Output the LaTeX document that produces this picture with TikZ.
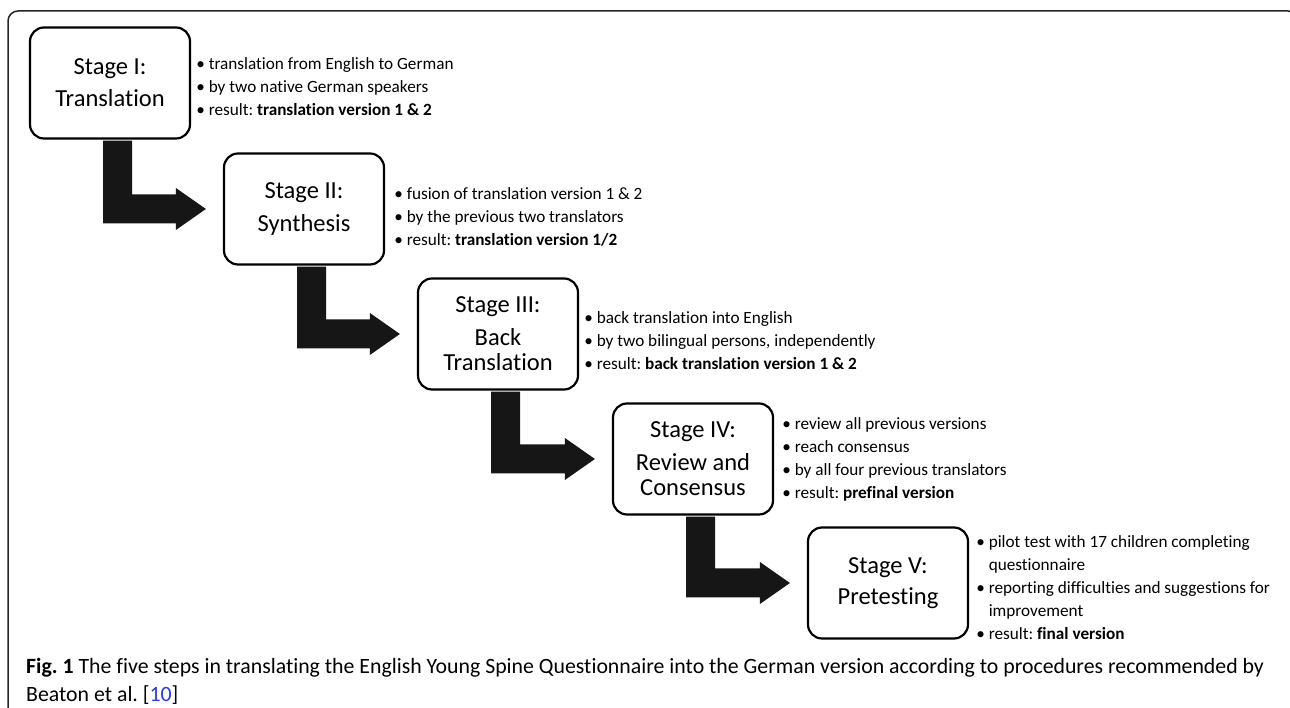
\documentclass[tikz,border=0pt]{standalone}
\usepackage{fontspec}
\setmainfont{Carlito}[Ligatures=NoCommon]
\usetikzlibrary{calc}
\definecolor{arrowblack}{HTML}{161616}
\definecolor{reflink}{RGB}{40,60,230}
\frenchspacing
\tikzset{
  stagebox/.style={draw=black, line width=2.2pt, rounded corners=14pt, minimum width=160pt, minimum height=111pt, align=center, font=\fontsize{24.5}{25}\selectfont, inner sep=0pt},
  bullets/.style={anchor=west, align=left, font=\fontsize{17.2}{23}\selectfont, inner sep=0pt},
  elbowfill/.style={fill=arrowblack},
  frameline/.style={draw=black!85, line width=1.5pt, rounded corners=10pt},
}
\newcommand{\elbow}[2]{%
  \fill[elbowfill] let \p1=(#1.south), \p2=(#1.center), \p3=(#2.west) in
    (\x2-7pt,\y1-1pt) -- (\x2+22pt,\y1-1pt) -- (\x2+22pt,\y3+14.5pt) -- (\x3-47pt,\y3+14.5pt)
    -- (\x3-47pt,\y3+21pt) -- (\x3-17pt,\y3) -- (\x3-47pt,\y3-21pt) -- (\x3-47pt,\y3-14.5pt)
    -- (\x2-7pt,\y3-14.5pt) -- cycle;}
\begin{document}
\begin{tikzpicture}[x=1pt,y=1pt]
\useasboundingbox (0,0) rectangle (1290,708);
\clip (0,0) rectangle (1290,708);
\fill[white] (0,0) rectangle (1290,708);
\draw[frameline] (8,-20) -- (8,697) -- (1298,697) -- (1298,-20);

\node[stagebox] (s1) at (110,625) {Stage I:\\[7pt]Translation};
\node[stagebox] (s2) at (304,499) {Stage II:\\[8pt]Synthesis};
\node[stagebox] (s3) at (498,374) {Stage III:\\[8pt]Back\\Translation};
\node[stagebox] (s4) at (693,249) {Stage IV:\\[8pt]Review and\\Consensus};
\node[stagebox] (s5) at (888,125) {Stage V:\\[6pt]Pretesting};

\node[bullets] (b1) at ($(s1.east)+(5,-4)$) {• translation from English to German\\• by two native German speakers\\• result: \textbf{translation version 1 \& 2}};
\node[bullets] (b2) at ($(s2.east)+(9,-8)$) {• fusion of translation version 1 \& 2\\• by the previous two translators\\• result: \textbf{translation version 1/2}};
\node[bullets] (b3) at ($(s3.east)+(5,-7)$) {• back translation into English\\• by two bilingual persons, independently\\• result: \textbf{back translation version 1 \& 2}};
\node[bullets] (b4) at ($(s4.east)+(8,0)$) {• review all previous versions\\• reach consensus\\• by all four previous translators\\• result: \textbf{prefinal version}};
\node[bullets] (b5) at ($(s5.east)+(7,-5)$) {• pilot test with 17 children completing\\\hphantom{• }questionnaire\\• reporting difficulties and suggestions for\\\hphantom{• }improvement\\• result: \textbf{final version}};

\elbow{s1}{s2}
\elbow{s2}{s3}
\elbow{s3}{s4}
\elbow{s4}{s5}

\node[anchor=north west, align=left, inner sep=0pt, font=\fontsize{21.8}{28}\selectfont] (cap) at (26,50) {\textbf{Fig. 1} The five steps in translating the English Young Spine Questionnaire into the German version according to procedures recommended by\\Beaton et al. [\textcolor{reflink}{10}]};
\end{tikzpicture}
\end{document}
